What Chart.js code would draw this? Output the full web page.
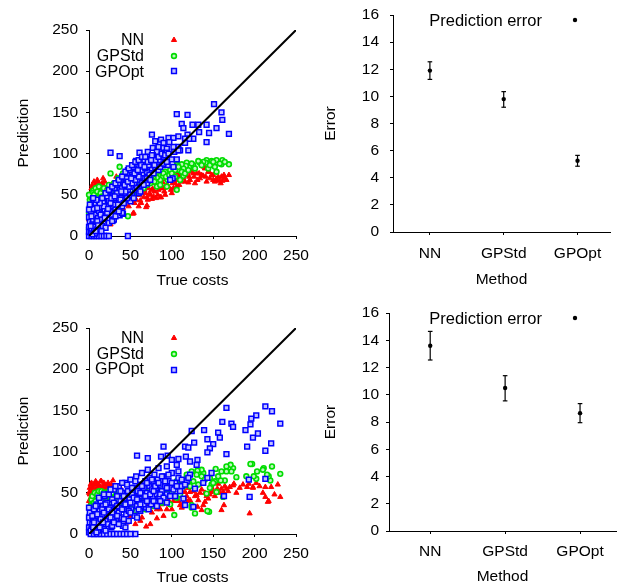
<!DOCTYPE html>
<html>
<head>
<meta charset="utf-8">
<script src="https://cdn.jsdelivr.net/npm/chart.js@4.4.1/dist/chart.umd.min.js"></script>
<style>
  html, body { margin: 0; padding: 0; background: #fff; }
  #wrap { position: relative; width: 622px; height: 587px; }
  canvas { position: absolute; }
</style>
</head>
<body>
<div id="wrap">
  <canvas id="scatterTop" width="310" height="295" style="left:0;top:0"></canvas>
  <canvas id="errorTop" width="312" height="295" style="left:310px;top:0"></canvas>
  <canvas id="scatterBottom" width="310" height="292" style="left:0;top:295px"></canvas>
  <canvas id="errorBottom" width="312" height="292" style="left:310px;top:295px"></canvas>
</div>
<script>
// ---- data ----
const methods = ['NN', 'GPStd', 'GPOpt'];
const diagonal = [[0, 0], [250, 250]];

// top row: prediction error per method
const topErr = [11.9, 9.8, 5.25];
const topErrLow = [11.25, 9.2, 4.85];
const topErrHigh = [12.55, 10.35, 5.65];

// bottom row
const bottomErr = [13.6, 10.5, 8.65];
const bottomErrLow = [12.55, 9.55, 7.95];
const bottomErrHigh = [14.65, 11.4, 9.35];

// top scatter: [true cost, prediction]
const topNN = [
  [169,74],[161,67],[158,67],[153,68],[150,68],[148,74],[145,78],[142,66],[140,82],[138,73],
  [133,76],[130,76],[126,76],[124,78],[121,72],[120,65],[116,66],[114,72],[111,74],[107,76],
  [106,68],[106,60],[101,64],[100,70],[100,52],[99,56],[95,74],[93,69],[92,59],[92,50],
  [89,65],[88,58],[86,47],[84,56],[80,64],[78,48],[77,57],[76,56],[76,45],[70,47],
  [70,37],[69,35],[66,47],[62,43],[54,28],[53,27],[53,46],[47,58],[42,28],[37,53],
  [33,72],[29,44],[23,37],[19,29],[17,70],[13,59],[12,56],[10,57],[5,47],[1,37],
  [164,70],[160,72],[156,72],[152,66],[144,78],[139,84],[134,70],[128,64],[118,78],[112,66],
  [108,72],[104,64],[98,67],[94,62],[90,58],[87,47],[81,46],[74,50],[72,58],[68,52],
  [64,55],[60,36],[58,50],[55,40],[50,44],[46,52],[44,38],[40,48],[38,60],[35,42],
  [32,50],[30,36],[28,46],[26,56],[24,40],[22,48],[20,58],[18,44],[16,54],[14,62],
  [14,40],[11,48],[9,30],[8,52],[7,38],[6,44],[6,26],[4,50],[3,33],[2,42],
  [2,20],[1,28],[1,14],[0,8],[3,4],[5,10],[8,16],[12,18],[15,26],[20,24],
  [25,30],[30,22],[17,11],[26,14],
  [0,20],[0,32],[1,46],[2,52],[3,58],[4,62],[5,54],[6,66],[7,60],[8,46],
  [9,64],[10,68],[11,54],[12,64],[13,48],[15,58],[16,64],[18,60],[19,66],[21,52],
  [23,56],[25,48],[27,52],[31,42],[34,48],[36,36],[39,44],[41,34],[45,42],[48,36],
  [51,48],[57,44],[61,50],[63,40],[67,56],[71,44],[73,52],[79,54],[83,50],[85,62],
  [91,54],[96,60],[102,58],[105,70],[109,62],[113,70],[117,74],[122,68],[127,72],[131,68],
  [136,74],[141,72],[146,70],[150,74],[155,68],[159,64],[163,74],[166,68]
];
const topGPStd = [
  [169,87],[161,92],[160,87],[154,92],[154,78],[152,84],[148,91],[144,82],[142,92],[141,89],
  [138,90],[134,89],[132,91],[126,86],[121,84],[118,89],[117,85],[114,82],[114,73],[112,87],
  [110,68],[109,80],[106,91],[106,86],[106,56],[104,80],[101,70],[98,80],[95,68],[94,60],
  [92,78],[89,72],[86,68],[84,74],[82,71],[82,60],[78,70],[76,68],[74,64],[72,70],
  [70,62],[68,66],[66,58],[64,70],[62,60],[60,64],[58,52],[57,68],[55,55],[54,60],
  [52,72],[50,55],[48,66],[47,24],[46,56],[44,62],[42,48],[41,76],[40,70],[38,52],
  [37,84],[36,62],[34,44],[32,58],[30,50],[28,34],[27,60],[26,76],[25,42],[24,54],
  [22,46],[20,36],[19,50],[18,40],[17,53],[16,54],[15,44],[13,30],[12,50],[11,38],
  [10,46],[8,52],[7,43],[6,34],[5,55],[4,24],[3,42],[2,28],[1,36],[1,20],
  [0,10],[0,28],[1,5],
  [2,48],[4,52],[6,50],[8,58],[10,54],[12,60],[14,52],[16,48],[18,58],[20,44],
  [22,56],[24,62],[26,50],[28,58],[30,64],[33,56],[35,70],[38,64],[40,58],[43,68],
  [46,64],[49,60],[52,66],[56,62],[59,70],[63,66],[66,72],[69,70],[72,66],[76,74],
  [79,66],[83,78],[86,62],[90,76],[93,72],[97,74],[100,76],[104,72],[108,84],[112,78],
  [116,76],[120,80],[124,88],[128,82],[136,86],[146,86],[150,90],[158,88],[164,90],[1,44],
  [3,46],[5,40],[0,50]
];
const topGPOpt = [
  [151,160],[106,148],[119,147],[160,150],[161,141],[154,131],[169,124],[142,135],[145,125],[142,114],
  [132,135],[133,126],[125,135],[112,136],[114,131],[119,123],[76,123],[87,117],[96,119],[102,119],
  [108,121],[116,118],[126,118],[121,118],[116,113],[108,108],[102,108],[97,114],[90,113],[80,115],
  [84,108],[90,107],[94,106],[77,107],[82,102],[93,101],[88,98],[77,98],[80,92],[92,92],
  [100,93],[106,93],[110,104],[120,104],[86,89],[95,86],[101,70],[102,84],[103,102],[108,104],
  [26,101],[37,97],[57,91],[68,92],[61,101],[71,102],[47,80],[53,84],[60,85],[67,88],
  [74,89],[82,95],[29,19],[47,0],[37,25],[41,27],[98,68],
  [0,0],[3,0],[6,0],[9,0],[12,0],[15,0],[18,0],[21,0],[24,0],[0,5],
  [0,11],[1,17],[0,23],[2,4],[3,9],[4,14],[5,20],[6,7],[7,12],[8,26],
  [9,17],[10,8],[11,22],[12,30],[13,14],[14,35],[15,20],[16,27],[17,42],[18,15],
  [19,32],[20,24],[21,47],[22,36],[23,20],[24,43],[25,30],[26,54],[27,36],[28,25],
  [29,48],[30,38],[31,58],[32,32],[33,44],[34,62],[35,50],[36,40],[37,56],[38,66],
  [39,46],[40,36],[41,60],[42,72],[43,52],[44,44],[45,64],[46,76],[47,56],[48,48],
  [49,68],[50,80],[51,60],[52,50],[53,72],[54,84],[55,64],[56,56],[57,76],[58,88],
  [59,68],[60,60],[61,80],[62,90],[63,72],[64,64],[65,84],[66,76],[67,92],[68,70],
  [69,86],[70,78],[72,94],[73,74],[74,88],[76,82],[78,90],[80,84],[82,94],[84,80],
  [86,92],[88,86],[90,96],[30,20],[40,28],[50,42],[60,52],[70,64],[22,48],[35,64],
  [45,70],
  [2,30],[4,38],[6,42],[3,24],[5,33],[8,40],[10,18],[10,34],[12,42],[14,26],
  [16,46],[16,12],[18,36],[20,52],[20,10],[22,28],[24,56],[24,16],[26,40],[28,60],
  [28,18],[30,46],[32,64],[32,24],[34,52],[36,68],[36,30],[38,44],[40,72],[40,58],
  [42,40],[44,78],[44,54],[46,46],[48,82],[48,60],[50,50],[52,86],[52,64],[54,46],
  [56,90],[56,68],[58,58],[60,92],[60,72],[62,54],[64,96],[64,80],[66,62],[68,96],
  [68,82],[70,70],[72,86],[74,68],[76,98],[78,76],[80,92],[82,86],[84,96],[86,84],
  [88,100],[90,88],[92,98],[94,90],[96,100],[7,3],[11,13],[15,6],[19,22],[23,33],
  [27,46],[31,48],[35,38],[39,54],[43,62],[47,66],[51,70],[55,76],[59,80],[63,86],
  [67,84],[71,90],[75,92],[79,86],[13,40],[9,44],[5,46],[1,38],[0,32],[2,12],
  [4,2],[8,6]
];

// bottom scatter
const bottomNN = [
  [231,45],[217,40],[216,39],[213,45],[220,57],[213,57],[202,62],[198,57],[198,56],[193,61],
  [191,57],[194,25],[178,50],[175,61],[174,59],[170,57],[166,55],[162,51],[163,35],[160,55],
  [160,29],[156,61],[155,55],[148,57],[147,51],[144,43],[140,39],[138,35],[136,29],[132,41],
  [131,33],[130,47],[122,51],[122,41],[116,51],[114,38],[112,32],[110,35],[102,53],[96,41],
  [82,19],[69,9],[29,65],[15,64],
  [1,30],[2,44],[3,52],[4,38],[5,58],[6,46],[7,34],[8,54],[9,62],[10,42],
  [11,50],[12,36],[13,58],[14,48],[15,30],[16,56],[17,44],[18,62],[19,38],[20,52],
  [21,46],[22,58],[23,40],[24,54],[25,34],[26,48],[27,60],[28,44],[30,52],[32,40],
  [34,56],[36,46],[3,20],[6,26],[12,24],[0,40],[2,60],[8,28],
  [40,36],[44,28],[48,44],[50,22],[54,38],[58,48],[60,30],[64,20],[66,42],[70,52],
  [72,34],[76,26],[78,46],[80,38],[84,54],[86,30],[88,44],[90,22],[92,50],[96,48],
  [100,30],[104,44],[106,56],[108,40],[112,52],[118,46],[120,56],[124,36],[126,52],[134,50],
  [142,46],[150,52],[46,14],[56,12],[62,16],[74,12],[38,18],[30,16],
  [0,50],[1,56],[2,38],[3,62],[4,46],[5,50],[6,60],[7,42],[8,64],[9,48],
  [10,56],[11,60],[12,46],[13,52],[14,64],[15,42],[16,50],[17,58],[18,52],[19,60],
  [20,44],[21,56],[22,52],[23,62],[24,46],[25,58],[26,52],[28,56],[29,50],[31,58],
  [33,48],[35,52],[38,56],[42,50],[1,48],[4,56],
  [44,34],[52,30],[60,40],[68,38],[74,44],[82,30],[88,36],[94,30],[98,52],[102,40],
  [110,46],[116,42],[120,40],[128,46],[136,54],[140,50],[146,48],[152,46],[158,50],[164,58],
  [168,52],[182,56],[186,60],[206,58],[210,50],[224,48],[228,60]
];
const bottomGPStd = [
  [231,73],[221,82],[219,65],[217,70],[215,72],[211,80],[210,78],[203,76],[202,67],[199,70],
  [197,85],[195,85],[190,70],[178,69],[174,80],[172,76],[171,84],[166,82],[166,76],[164,65],
  [162,45],[160,76],[159,65],[154,51],[153,79],[152,64],[148,60],[146,68],[145,27],[143,28],
  [142,49],[138,74],[136,78],[136,70],[131,77],[130,72],[128,25],[124,76],[124,35],[124,32],
  [118,72],[111,65],[108,57],[103,23],
  [2,18],[3,28],[4,36],[5,24],[6,42],[7,30],[8,46],[9,20],[10,34],[11,40],
  [12,26],[13,48],[14,32],[15,22],[16,38],[17,44],[18,28],[19,36],[20,50],[22,30],
  [24,40],[25,24],[26,46],[28,34],[30,42],[32,28],[34,48],[36,36],[38,30],[40,44],
  [42,38],[45,50],[48,32],[50,46],[52,40],[55,28],[58,52],[60,36],[62,44],[65,56],
  [68,30],[70,48],[72,40],[75,58],[78,34],[80,52],[82,44],[85,60],[88,38],[90,54],
  [92,46],[95,62],[98,36],[100,50],[104,60],[106,44],[114,58],[120,62],
  [1,24],[2,34],[3,42],[4,46],[5,30],[6,38],[7,50],[8,40],[9,30],[10,48],
  [11,28],[12,52],[13,38],[14,44],[15,52],[16,28],[17,34],[18,50],[19,42],[20,26],
  [21,40],[22,48],[23,34],[24,52],[26,38],[28,50],[30,30],[32,46],[34,40],[36,52],
  [40,30],[44,42],[48,50],[52,30],[56,44],[60,52],[64,38],[68,56],[72,50],[76,44],
  [80,62],[84,40],[88,56],[92,60],[96,54],[102,56],[106,64],[110,48],[116,66],[122,58],
  [126,64],[132,60],[140,66],[146,56],[150,62],[156,70]
];
const bottomGPOpt = [
  [213,155],[221,149],[231,134],[202,144],[196,140],[195,133],[204,122],[198,117],[220,110],[213,101],
  [191,106],[189,126],[166,153],[161,136],[172,134],[174,130],[156,123],[158,117],[143,115],[150,109],
  [146,104],[143,99],[139,126],[124,125],[127,111],[116,106],[120,105],[90,106],[95,95],[87,94],
  [58,95],[71,92],[100,90],[108,91],[117,94],[122,88],[131,90],[106,84],[94,82],[130,84],
  [166,97],[213,67],[193,66],[194,45],[163,46],[148,74],[143,68],[138,62],[128,55],[114,43],
  [126,33],[116,35],[56,0],
  [0,2],[0,8],[1,14],[0,20],[1,26],[0,32],[2,0],[6,0],[10,0],[14,0],
  [18,0],[22,0],[26,0],[30,0],[34,0],[38,0],[42,0],[46,0],[50,0],[3,6],
  [4,12],[5,20],[6,30],[7,8],[8,16],[9,24],[10,36],[11,4],[12,14],[13,28],
  [14,40],[15,10],[16,22],[17,34],[18,6],[19,46],[20,16],[21,28],[22,38],[23,12],
  [24,48],[25,22],[26,32],[27,8],[28,42],[29,18],[30,54],[31,28],[32,36],[33,14],
  [34,46],[35,24],[36,58],[37,32],[38,40],[39,20],[40,50],[41,10],[42,30],[43,44],
  [44,62],[45,24],[46,36],[47,52],[48,16],[49,42],[50,66],[51,30],[52,48],[53,38],
  [54,56],[55,22],[56,44],[57,70],[58,34],[59,52],[60,40],[61,60],[62,28],[63,48],
  [64,74],[65,38],[66,56],[67,46],[68,64],[69,32],[70,50],[71,78],[72,42],[73,58],
  [74,68],[75,36],[76,54],[77,46],[78,62],[79,72],[80,40],[81,56],[82,48],[83,66],
  [84,80],[85,44],[86,60],[88,52],[90,70],[92,58],[94,48],[96,64],[98,56],[100,74],
  [104,62],[108,68],[112,58],[118,64],[122,72],[104,46],[110,52],
  [2,4],[4,22],[6,14],[8,34],[10,24],[12,44],[14,18],[16,30],[18,48],[20,36],
  [22,22],[24,30],[26,54],[28,26],[30,38],[32,58],[34,34],[36,26],[38,52],[40,62],
  [40,30],[42,46],[44,36],[46,60],[48,28],[50,38],[52,56],[54,44],[56,64],[58,42],
  [60,30],[62,50],[64,58],[66,36],[68,46],[70,62],[72,30],[74,48],[76,66],[78,40],
  [80,58],[82,34],[84,62],[86,48],[88,70],[90,44],[92,64],[94,56],[96,72],[98,46],
  [100,62],[102,54],[106,58],[108,76],[112,66],[116,60],[120,68],[18,26],[26,20],[34,22],
  [42,18],[50,26],[58,20],[44,8],[36,12],[28,10],[20,4],[62,36],[70,40],[78,52],
  [86,40],[94,38],[30,14],[5,8],[9,2],[13,8],[17,14]
];

// ---- drawing ----
const FONT = '"Liberation Sans", Arial, sans-serif';
Chart.defaults.font.family = FONT;
Chart.defaults.font.size = 15.5;
Chart.defaults.color = '#000';

function pairs(arr) { return arr.map(p => ({ x: p[0], y: p[1] })); }

// gnuplot-style key: text right-aligned, sample marker to its right
function keyPlugin(rows, size) {
  return {
    id: 'gkey',
    afterDraw(chart) {
      const ctx = chart.ctx;
      ctx.save();
      ctx.font = size + 'px ' + FONT;
      ctx.textAlign = 'right';
      ctx.textBaseline = 'middle';
      rows.forEach(r => {
        ctx.fillStyle = '#000';
        ctx.fillText(r.label, r.tx, r.ty);
        const ds = chart.data.datasets.find(d => d.label === r.label);
        ctx.fillStyle = ds.backgroundColor;
        ctx.strokeStyle = ds.borderColor;
        ctx.lineWidth = ds.borderWidth;
        Chart.helpers.drawPoint(ctx, { pointStyle: ds.pointStyle, radius: ds.pointRadius, borderWidth: ds.borderWidth, rotation: 0 }, r.mx, r.my);
      });
      ctx.restore();
    }
  };
}

function axisBits(titleText, titlePad) {
  return {
    grid: { drawOnChartArea: false, tickLength: 3, color: '#000', lineWidth: 1 },
    border: { color: '#000', width: 1 },
    title: { display: true, text: titleText, color: '#000', padding: titlePad }
  };
}

// fixed axis boxes so the plot areas land where the figure has them
function fixX(h) { return s => { s.height = h; s.paddingLeft = 0; s.paddingRight = 0; }; }
function fixY(w) { return s => { s.width = w; s.paddingTop = 0; s.paddingBottom = 0; }; }

function scatterChart(id, nn, gpstd, gpopt, box, keyRows) {
  const xa = axisBits('True costs', { top: 0, bottom: box.xTitlePad });
  const ya = axisBits('Prediction', { top: box.yTitlePad, bottom: 0 });
  new Chart(document.getElementById(id), {
    type: 'scatter',
    data: {
      datasets: [
        { label: 'diag', data: pairs(diagonal), showLine: true, borderColor: '#000', borderWidth: 2,
          pointRadius: 0, order: 0 },
        { label: 'GPOpt', data: pairs(gpopt), pointStyle: 'rect', pointRadius: 3.4, borderWidth: 1.5,
          borderColor: '#0000ff', backgroundColor: '#c0c0ff', order: 1, clip: false },
        { label: 'GPStd', data: pairs(gpstd), pointStyle: 'circle', pointRadius: 2.4, borderWidth: 1.6,
          borderColor: '#00dd00', backgroundColor: '#bff5bf', order: 2, clip: false },
        { label: 'NN', data: pairs(nn), pointStyle: 'triangle', pointRadius: 3, borderWidth: 1,
          borderColor: '#ff0000', backgroundColor: '#ff0000', order: 3, clip: false }
      ]
    },
    options: {
      responsive: false,
      animation: false,
      events: [],
      layout: { padding: { top: box.top, right: box.right, left: 0, bottom: 0 } },
      plugins: { legend: { display: false }, tooltip: { enabled: false } },
      scales: {
        x: Object.assign(xa, {
          type: 'linear', min: 0, max: 250,
          ticks: { stepSize: 50, padding: 7, color: '#000', maxRotation: 0 },
          afterFit: fixX(box.xh)
        }),
        y: Object.assign(ya, {
          type: 'linear', min: 0, max: 250,
          ticks: { stepSize: 50, padding: 8, color: '#000' },
          afterFit: fixY(box.yw)
        })
      }
    },
    plugins: [keyPlugin(keyRows, 16)]
  });
}

function errorChart(id, val, lo, hi, box, keyPos) {
  const bars = [];
  val.forEach((v, i) => {
    bars.push({ x: i + 1, y: lo[i] }, { x: i + 1, y: hi[i] }, { x: i + 1.5, y: null });
  });
  const xa = axisBits('Method', { top: 0, bottom: box.xTitlePad });
  const ya = axisBits('Error', { top: box.yTitlePad, bottom: 0 });
  new Chart(document.getElementById(id), {
    type: 'scatter',
    data: {
      datasets: [
        { label: 'Prediction error', data: val.map((v, i) => ({ x: i + 1, y: v })), pointStyle: 'circle',
          pointRadius: 2.2, borderWidth: 0, borderColor: '#000', backgroundColor: '#000', clip: false },
        { label: 'bars', data: bars, showLine: true, spanGaps: false, borderColor: '#000', borderWidth: 1.2,
          pointStyle: 'line', pointRadius: 2.3, pointBorderWidth: 1.2, clip: false }
      ]
    },
    options: {
      responsive: false,
      animation: false,
      events: [],
      layout: { padding: { top: box.top, right: box.right, left: 0, bottom: 0 } },
      plugins: { legend: { display: false }, tooltip: { enabled: false } },
      scales: {
        x: Object.assign(xa, {
          type: 'linear', min: box.xmin, max: box.xmax,
          afterBuildTicks: s => { s.ticks = methods.map((m, i) => ({ value: i + 1 })); },
          ticks: { padding: box.xTickPad, color: '#000', autoSkip: false, maxRotation: 0,
                   callback: v => methods[Math.round(v) - 1] },
          afterFit: fixX(box.xh)
        }),
        y: Object.assign(ya, {
          type: 'linear', min: 0, max: 16,
          ticks: { stepSize: 2, padding: box.yTickPad, color: '#000' },
          afterFit: fixY(box.yw)
        })
      }
    },
    plugins: [keyPlugin([{ label: 'Prediction error', tx: keyPos.tx, ty: keyPos.ty, mx: keyPos.mx, my: keyPos.my }], 16.5)]
  });
}

scatterChart('scatterTop', topNN, topGPStd, topGPOpt,
  { top: 30, right: 14, yw: 89, xh: 59, xTitlePad: 5, yTitlePad: 14 },
  [{ label: 'NN', tx: 144, ty: 41, mx: 174, my: 40 },
   { label: 'GPStd', tx: 144, ty: 57, mx: 174, my: 56 },
   { label: 'GPOpt', tx: 144, ty: 73, mx: 174, my: 71 }]);

scatterChart('scatterBottom', bottomNN, bottomGPStd, bottomGPOpt,
  { top: 33, right: 14, yw: 89, xh: 53, xTitlePad: 0, yTitlePad: 14 },
  [{ label: 'NN', tx: 144, ty: 44, mx: 174, my: 43 },
   { label: 'GPStd', tx: 144, ty: 60, mx: 174, my: 59 },
   { label: 'GPOpt', tx: 144, ty: 75, mx: 174, my: 75 }]);

errorChart('errorTop', topErr, topErrLow, topErrHigh,
  { top: 15, right: 12, yw: 83, xh: 63, xmin: 0.5, xmax: 3.44, xTitlePad: 6, yTitlePad: 11, yTickPad: 11, xTickPad: 9 },
  { tx: 232, ty: 21, mx: 265, my: 20 });

errorChart('errorBottom', bottomErr, bottomErrLow, bottomErrHigh,
  { top: 18, right: 6, yw: 79, xh: 56, xmin: 0.45, xmax: 3.48, xTitlePad: 1, yTitlePad: 11, yTickPad: 7, xTickPad: 8 },
  { tx: 232, ty: 24, mx: 265, my: 23 });
</script>
</body>
</html>
